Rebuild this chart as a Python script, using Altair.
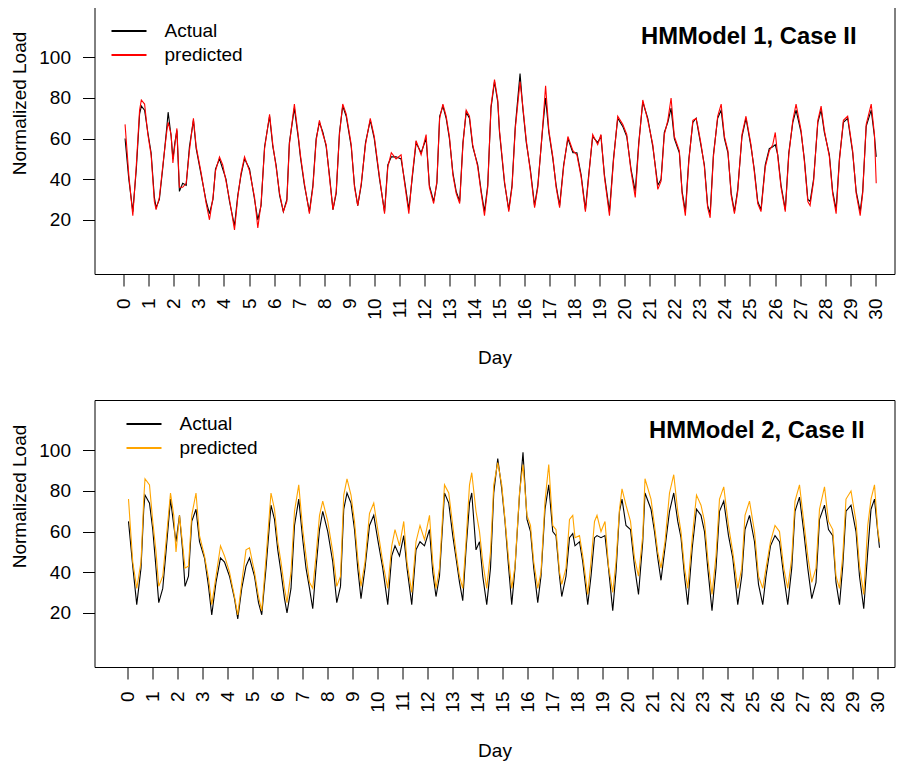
import altair as alt
import pandas as pd

SERIES = ["Actual", "predicted"]
X_TICKS = list(range(0, 31))
Y_TICKS = [20, 40, 60, 80, 100]

# ---------------- Panel 1 : HMModel 1, Case II ----------------
DAYS_1 = [0.05, 0.2, 0.36, 0.5, 0.63, 0.7, 0.83, 0.96, 1.09, 1.22, 1.29, 1.42, 1.56, 1.72, 1.77, 1.89, 1.96,
          2.04, 2.12, 2.22, 2.35, 2.49, 2.62, 2.78, 2.89, 3.09, 3.29, 3.42, 3.56, 3.66, 3.82, 3.95, 4.08,
          4.22, 4.42, 4.55, 4.68, 4.82, 5.02, 5.22, 5.35, 5.48, 5.62, 5.82, 5.95, 6.08, 6.22, 6.37, 6.51,
          6.61, 6.81, 6.97, 7.05, 7.21, 7.41, 7.55, 7.68, 7.81, 7.95, 8.08, 8.21, 8.35, 8.48, 8.61, 8.74,
          8.88, 9.08, 9.21, 9.34, 9.48, 9.65, 9.84, 10.0, 10.21, 10.41, 10.54, 10.68, 10.87, 11.07, 11.2,
          11.38, 11.51, 11.67, 11.87, 12.07, 12.2, 12.37, 12.5, 12.61, 12.74, 12.87, 13.0, 13.14, 13.27,
          13.41, 13.54, 13.67, 13.8, 13.93, 14.13, 14.27, 14.4, 14.53, 14.66, 14.8, 14.93, 15.0, 15.2,
          15.37, 15.5, 15.63, 15.82, 15.93, 16.07, 16.23, 16.4, 16.53, 16.73, 16.84, 16.97, 17.13, 17.26,
          17.4, 17.56, 17.73, 17.93, 18.09, 18.26, 18.43, 18.56, 18.72, 18.92, 19.05, 19.19, 19.39, 19.55,
          19.72, 19.92, 20.08, 20.25, 20.42, 20.56, 20.72, 20.92, 21.12, 21.32, 21.45, 21.58, 21.72, 21.85,
          21.98, 22.18, 22.29, 22.42, 22.56, 22.72, 22.85, 22.92, 23.05, 23.18, 23.31, 23.41, 23.54, 23.71,
          23.85, 23.98, 24.12, 24.25, 24.38, 24.51, 24.68, 24.84, 25.04, 25.17, 25.31, 25.44, 25.61, 25.77,
          25.91, 26.01, 26.11, 26.24, 26.41, 26.55, 26.71, 26.84, 27.04, 27.17, 27.31, 27.4, 27.54, 27.71,
          27.84, 27.97, 28.17, 28.3, 28.44, 28.57, 28.73, 28.9, 29.1, 29.24, 29.4, 29.5, 29.64, 29.84,
          29.97, 30.04]
ACTUAL_1 = [60, 40, 24, 45, 72, 76, 74, 63, 53, 31, 26, 30, 46, 66, 73, 61, 50,
            58, 64, 34, 38, 37, 56, 69, 55, 42, 29, 23, 30, 45, 50, 45, 40,
            29, 17, 32, 42, 50, 45, 30, 20, 27, 56, 71, 56, 47, 32, 24, 30,
            58, 75, 60, 51, 37, 24, 37, 60, 68, 63, 56, 42, 25, 33, 63, 76,
            71, 56, 37, 27, 37, 58, 69, 60, 40, 24, 47, 51, 51, 50, 40,
            25, 40, 58, 53, 60, 37, 29, 38, 71, 76, 70, 60, 43, 34,
            29, 58, 73, 70, 56, 47, 34, 24, 37, 75, 88, 78, 63, 38,
            25, 37, 66, 92, 75, 58, 45, 27, 37, 66, 80, 63, 50, 37,
            27, 47, 60, 53, 53, 42, 25, 42, 61, 58, 61, 42, 24, 50,
            70, 66, 61, 45, 34, 58, 78, 70, 56, 37, 40, 63, 68, 75,
            60, 53, 34, 24, 50, 68, 70, 65, 56, 47, 27, 23, 52, 70,
            74, 60, 53, 33, 24, 35, 61, 70, 56, 45, 29, 25, 47, 55,
            56, 57, 52, 37, 25, 53, 68, 74, 63, 50, 30, 29, 40, 68,
            74, 63, 52, 34, 25, 50, 68, 70, 53, 34, 24, 34, 66, 74,
            61, 51]
PRED_1 = [67, 42, 22, 47, 74, 79, 77, 62, 52, 29, 25, 31, 47, 64, 68, 62, 48,
          57, 65, 36, 36, 38, 54, 70, 56, 43, 28, 20, 31, 44, 51, 47, 39,
          30, 15, 31, 43, 51, 44, 31, 16, 28, 55, 72, 57, 46, 33, 24, 29,
          57, 77, 61, 52, 38, 23, 36, 59, 69, 62, 57, 41, 25, 34, 62, 77,
          72, 57, 36, 27, 38, 57, 70, 61, 41, 23, 46, 53, 50, 52, 39,
          23, 41, 59, 52, 62, 36, 28, 39, 70, 77, 71, 61, 42, 33,
          28, 57, 74, 71, 57, 46, 33, 22, 36, 76, 89, 79, 64, 39,
          24, 36, 65, 88, 76, 59, 44, 26, 36, 67, 86, 64, 51, 36,
          26, 46, 61, 54, 52, 41, 24, 41, 62, 57, 62, 41, 22, 49,
          71, 67, 62, 44, 31, 57, 79, 69, 57, 35, 39, 62, 69, 80,
          61, 54, 33, 22, 49, 69, 70, 66, 57, 46, 26, 21, 51, 71,
          77, 61, 54, 32, 23, 34, 62, 71, 57, 44, 28, 24, 46, 54,
          57, 63, 51, 36, 24, 52, 69, 77, 64, 49, 29, 27, 39, 69,
          76, 64, 51, 33, 23, 49, 69, 71, 54, 33, 22, 33, 67, 77,
          62, 38]

# ---------------- Panel 2 : HMModel 2, Case II ----------------
DAYS_2 = [0.03, 0.2, 0.36, 0.53, 0.64, 0.69, 0.87, 1.0, 1.13, 1.24, 1.4, 1.53, 1.71, 1.84, 1.93, 2.07, 2.2,
          2.29, 2.43, 2.56, 2.73, 2.87, 3.07, 3.23, 3.36, 3.53, 3.71, 3.87, 4.07, 4.27, 4.4, 4.56, 4.73,
          4.87, 5.07, 5.23, 5.36, 5.53, 5.73, 5.87, 6.0, 6.13, 6.27, 6.37, 6.53, 6.67, 6.84, 7.0, 7.13,
          7.27, 7.4, 7.53, 7.67, 7.8, 8.0, 8.2, 8.36, 8.51, 8.64, 8.77, 8.93, 9.07, 9.2, 9.33, 9.49, 9.67,
          9.84, 10.0, 10.2, 10.4, 10.56, 10.69, 10.87, 11.04, 11.17, 11.36, 11.53, 11.69, 11.87, 12.07,
          12.2, 12.33, 12.47, 12.67, 12.84, 13.0, 13.13, 13.27, 13.4, 13.53, 13.67, 13.76, 13.93, 14.07,
          14.2, 14.36, 14.51, 14.64, 14.8, 14.96, 15.09, 15.23, 15.36, 15.49, 15.67, 15.81, 15.97, 16.11,
          16.24, 16.4, 16.53, 16.69, 16.84, 17.0, 17.13, 17.27, 17.36, 17.53, 17.67, 17.8, 17.89, 18.07,
          18.2, 18.4, 18.53, 18.67, 18.77, 18.93, 19.09, 19.23, 19.4, 19.53, 19.67, 19.77, 19.93, 20.11,
          20.27, 20.43, 20.6, 20.69, 20.93, 21.07, 21.2, 21.33, 21.49, 21.67, 21.84, 22.0, 22.13, 22.27,
          22.4, 22.58, 22.75, 22.93, 23.07, 23.2, 23.37, 23.53, 23.67, 23.84, 24.03, 24.2, 24.4, 24.56,
          24.69, 24.87, 25.07, 25.23, 25.4, 25.53, 25.71, 25.89, 26.07, 26.24, 26.4, 26.56, 26.69, 26.87,
          27.04, 27.2, 27.36, 27.53, 27.67, 27.87, 28.03, 28.2, 28.33, 28.47, 28.6, 28.73, 28.93, 29.13,
          29.27, 29.44, 29.6, 29.73, 29.87, 30.0, 30.07]
ACTUAL_2 = [65, 43, 24, 42, 71, 78, 74, 61, 42, 25, 32, 50, 76, 63, 55, 68, 50,
            33, 38, 65, 71, 55, 47, 33, 19, 35, 47, 45, 38, 27, 17, 32, 43,
            47, 38, 25, 19, 42, 73, 66, 51, 40, 27, 20, 32, 63, 76, 56, 42,
            32, 22, 42, 61, 70, 60, 45, 25, 33, 71, 79, 74, 61, 42, 27, 42, 63,
            68, 56, 42, 24, 48, 53, 48, 58, 42, 24, 51, 55, 53, 61,
            40, 28, 38, 79, 74, 58, 47, 35, 26, 51, 74, 79, 51, 55,
            38, 24, 42, 79, 96, 81, 65, 43, 24, 42, 78, 99, 66, 60,
            42, 25, 38, 71, 83, 60, 58, 38, 28, 38, 57, 59, 53, 55,
            45, 24, 38, 57, 58, 57, 58, 42, 21, 40, 70, 76, 63, 61,
            43, 29, 55, 79, 71, 60, 47, 36, 52, 70, 79, 65, 57, 38,
            24, 52, 71, 68, 60, 42, 21, 42, 70, 75, 58, 47, 24, 38,
            61, 68, 55, 34, 24, 38, 53, 58, 55, 38, 24, 42, 70, 77,
            60, 42, 27, 35, 66, 73, 61, 58, 35, 24, 43, 70, 73, 60,
            38, 22, 50, 71, 76, 60, 52]
PRED_2 = [76, 45, 32, 45, 76, 86, 83, 65, 50, 33, 38, 55, 79, 68, 50, 68, 53,
          42, 43, 68, 79, 58, 48, 37, 24, 38, 53, 48, 40, 28, 19, 35, 51,
          52, 40, 28, 21, 47, 79, 71, 55, 45, 32, 25, 40, 70, 83, 61, 48,
          35, 32, 48, 68, 75, 65, 50, 33, 38, 78, 86, 78, 65, 47, 33, 45, 69,
          74, 61, 45, 32, 53, 61, 53, 65, 45, 30, 55, 63, 56, 68,
          45, 32, 42, 83, 79, 63, 50, 38, 32, 55, 83, 89, 70, 60,
          45, 32, 50, 83, 94, 83, 66, 47, 32, 43, 79, 93, 68, 63,
          45, 32, 40, 75, 93, 63, 61, 40, 34, 42, 66, 68, 57, 58,
          48, 29, 45, 65, 68, 60, 65, 43, 30, 45, 71, 81, 73, 65,
          47, 38, 58, 86, 76, 63, 50, 42, 55, 79, 88, 70, 60, 42,
          32, 57, 78, 73, 65, 47, 29, 48, 76, 82, 63, 50, 32, 42,
          68, 75, 60, 38, 32, 42, 55, 63, 60, 42, 32, 47, 75, 83,
          65, 48, 35, 42, 71, 82, 65, 61, 38, 32, 48, 76, 80, 65,
          43, 29, 63, 76, 83, 61, 55]

FONT = "Liberation Sans"
FS = 19


def panel(days, actual, pred, color, title, x_domain, title_dx, title_offset, legend_x):
    df = pd.DataFrame({
        "day": list(days) + list(days),
        "value": list(actual) + list(pred),
        "series": [SERIES[0]] * len(days) + [SERIES[1]] * len(days),
    })
    return alt.Chart(df, title=alt.TitleParams(
        title, anchor="end", fontSize=23.8, fontWeight="bold", font=FONT, color="black",
        offset=title_offset, dx=title_dx, baseline="alphabetic")).mark_line(strokeWidth=1.1).encode(
        x=alt.X("day:Q",
                scale=alt.Scale(domain=x_domain, nice=False, zero=False),
                axis=alt.Axis(values=X_TICKS, title="Day", labelAngle=270, titlePadding=29)),
        y=alt.Y("value:Q",
                scale=alt.Scale(domain=[-6.7, 124.8], nice=False, zero=False),
                axis=alt.Axis(values=Y_TICKS, title="Normalized Load", titlePadding=9.4, titleY=96)),
        color=alt.Color("series:N",
                        scale=alt.Scale(domain=SERIES, range=["#000000", color]),
                        legend=alt.Legend(title=None, orient="none", legendX=legend_x, legendY=12,
                                          symbolType="stroke", symbolStrokeWidth=2, symbolSize=1225,
                                          labelFontSize=FS, labelFont=FONT, labelColor="black",
                                          labelOffset=17, clipHeight=24, rowPadding=0, padding=0)),
    ).properties(width=800, height=267)


top = panel(DAYS_1, ACTUAL_1, PRED_1, "#FF0000", "HMModel 1, Case II",
            [-1.17, 30.77], -38, -61, 16)
bottom = panel(DAYS_2, ACTUAL_2, PRED_2, "#FFA500", "HMModel 2, Case II",
               [-1.33, 30.67], -30, -62, 31)

chart = alt.vconcat(top, bottom, spacing=31).resolve_scale(color="independent").resolve_legend(
    color="independent"
).properties(
    padding={"left": 1.5, "top": -2, "right": 0, "bottom": 0},
    background="white",
).configure_view(stroke="black", strokeWidth=1).configure_axis(
    labelFont=FONT, titleFont=FONT, labelFontSize=FS, titleFontSize=FS,
    titleFontWeight="normal", labelColor="black", titleColor="black",
    tickColor="black", tickSize=12, tickWidth=1, labelPadding=12,
    domain=False, grid=False
)

chart.save("out.html", embed_options={"renderer": "svg", "actions": False})
